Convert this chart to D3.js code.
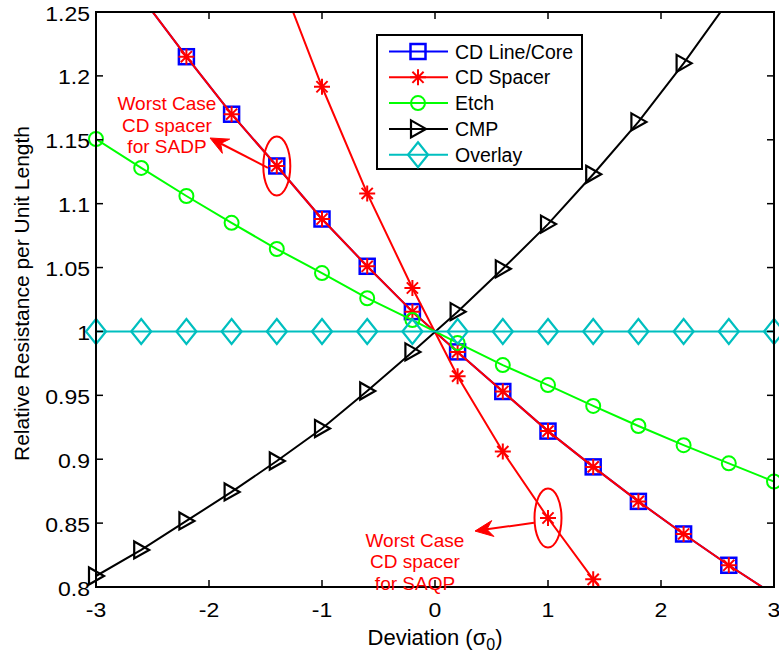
<!DOCTYPE html>
<html>
<head>
<meta charset="utf-8">
<script src="https://cdn.jsdelivr.net/npm/d3@7"></script>
<style>
  html, body { margin: 0; padding: 0; background: #fff; }
  svg { display: block; font-family: "Liberation Sans", Arial, Helvetica, sans-serif; }
</style>
</head>
<body>
<svg id="chart" width="779" height="656"></svg>
<script>
// Deviation in units of sigma_0
const deviation = [-3, -2.6, -2.2, -1.8, -1.4, -1.0, -0.6, -0.2, 0.2, 0.6, 1.0, 1.4, 1.8, 2.2, 2.6, 3.0];

// Relative resistance per unit length for each variation source
const cdLineCore    = [1.311, 1.262, 1.215, 1.170, 1.1295, 1.088, 1.051, 1.0155, 0.984, 0.953, 0.922, 0.894, 0.867, 0.8415, 0.817, 0.794];
const cdSpacerSADP  = [1.311, 1.262, 1.215, 1.170, 1.1295, 1.088, 1.051, 1.0155, 0.984, 0.953, 0.922, 0.894, 0.867, 0.8415, 0.817, 0.794];
const cdSpacerSAQP  = [1.74, 1.61, 1.49, 1.383, 1.283, 1.1915, 1.108, 1.034, 0.965, 0.906, 0.854, 0.806, 0.762, 0.722, 0.684, 0.648];
const etch          = [1.1506, 1.128, 1.106, 1.085, 1.0645, 1.0457, 1.026, 1.0089, 0.991, 0.9737, 0.958, 0.9417, 0.926, 0.911, 0.8968, 0.8825];
const cmp           = [0.8086, 0.829, 0.8517, 0.8744, 0.8986, 0.924, 0.9534, 0.984, 1.0155, 1.049, 1.084, 1.123, 1.164, 1.2098, 1.259, 1.31];
const overlay       = [1, 1, 1, 1, 1, 1, 1, 1, 1, 1, 1, 1, 1, 1, 1, 1];

const xTicks = [-3, -2, -1, 0, 1, 2, 3];
const yTicks = [0.8, 0.85, 0.9, 0.95, 1, 1.05, 1.1, 1.15, 1.2, 1.25];

const legendNames = ["CD Line/Core", "CD Spacer", "Etch", "CMP", "Overlay"];

(function () {
const series = [
  { name: "CD Line/Core", values: cdLineCore,   color: "#0000ff", marker: "square",   legend: 0 },
  { name: "CD Spacer",    values: cdSpacerSADP, color: "#ff0000", marker: "star",     legend: 1 },
  { name: "CD Spacer",    values: cdSpacerSAQP, color: "#ff0000", marker: "star",     legend: -1 },
  { name: "Etch",         values: etch,         color: "#00ff00", marker: "circle",   legend: 2 },
  { name: "CMP",          values: cmp,          color: "#000000", marker: "triangle", legend: 3 },
  { name: "Overlay",      values: overlay,      color: "#00bfbf", marker: "diamond",  legend: 4 }
];

const svg = d3.select("#chart");
const pl = 96, pr = 774, pt = 12, pb = 587;

const x = d3.scaleLinear().domain([-3, 3]).range([pl, pr]);
const y = d3.scaleLinear().domain([0.8, 1.25]).range([pb, pt]);

svg.append("defs").append("clipPath").attr("id", "plotClip")
  .append("rect").attr("x", pl).attr("y", pt)
  .attr("width", pr - pl).attr("height", pb - pt);

// marker shapes centred on (0,0)
function drawMarker(g, type, color) {
  if (type === "square") {
    g.append("rect").attr("x", -7.5).attr("y", -7.5).attr("width", 15).attr("height", 15)
      .attr("fill", "none").attr("stroke", color).attr("stroke-width", 2.5);
  } else if (type === "star") {
    const r = 8, d = 5.6;
    g.append("path")
      .attr("d", `M${-r},0L${r},0M0,${-r}L0,${r}M${-d},${-d}L${d},${d}M${-d},${d}L${d},${-d}`)
      .attr("stroke", color).attr("stroke-width", 2).attr("fill", "none");
  } else if (type === "circle") {
    g.append("circle").attr("r", 7).attr("fill", "none").attr("stroke", color).attr("stroke-width", 2);
  } else if (type === "triangle") {
    g.append("path").attr("d", "M-7,-8.5L8,0L-7,8.5Z")
      .attr("fill", "none").attr("stroke", color).attr("stroke-width", 2.2);
  } else if (type === "diamond") {
    g.append("path").attr("d", "M0,-12.5L10,0L0,12.5L-10,0Z")
      .attr("fill", "none").attr("stroke", color).attr("stroke-width", 2.2);
  }
}

// data lines and markers
const line = d3.line().x((d, i) => x(deviation[i])).y(d => y(d));
const plot = svg.append("g");
series.forEach(s => {
  plot.append("path").datum(s.values)
    .attr("d", line).attr("fill", "none")
    .attr("stroke", s.color).attr("stroke-width", 2)
    .attr("clip-path", "url(#plotClip)");
  s.values.forEach((v, i) => {
    if (v < 0.8 || v > 1.25) return;
    const g = plot.append("g").attr("transform", `translate(${x(deviation[i])},${y(v)})`);
    drawMarker(g, s.marker, s.color);
  });
});

// axes box and inward ticks on all four sides
const axisG = svg.append("g");
const tickLen = 7;
const tickFont = 19.5, stretch = 1.18;
xTicks.forEach(t => {
  axisG.append("line").attr("x1", x(t)).attr("x2", x(t)).attr("y1", pb).attr("y2", pb - tickLen)
    .attr("stroke", "#000").attr("stroke-width", 1.5);
  axisG.append("line").attr("x1", x(t)).attr("x2", x(t)).attr("y1", pt).attr("y2", pt + tickLen)
    .attr("stroke", "#000").attr("stroke-width", 1.5);
  axisG.append("text")
    .attr("transform", `translate(${x(t)},617) scale(${stretch},1)`)
    .attr("text-anchor", "middle").attr("font-size", tickFont).text(String(t));
});
yTicks.forEach(t => {
  axisG.append("line").attr("x1", pl).attr("x2", pl + tickLen).attr("y1", y(t)).attr("y2", y(t))
    .attr("stroke", "#000").attr("stroke-width", 1.5);
  axisG.append("line").attr("x1", pr).attr("x2", pr - tickLen).attr("y1", y(t)).attr("y2", y(t))
    .attr("stroke", "#000").attr("stroke-width", 1.5);
  axisG.append("text")
    .attr("transform", `translate(90,${y(t) + 8.5}) scale(${stretch},1)`)
    .attr("text-anchor", "end").attr("font-size", tickFont).text(String(+t.toFixed(2)));
});
axisG.append("rect").attr("x", pl).attr("y", pt).attr("width", pr - pl).attr("height", pb - pt)
  .attr("fill", "none").attr("stroke", "#000").attr("stroke-width", 2);

// axis titles
const xl = svg.append("text").attr("x", (pl + pr) / 2).attr("y", 645)
  .attr("text-anchor", "middle").attr("font-size", 22);
xl.append("tspan").text("Deviation (σ");
xl.append("tspan").attr("font-size", 16).attr("dy", 5).text("0");
xl.append("tspan").attr("dy", -5).text(")");

svg.append("text").attr("transform", `translate(29,${(pt + pb) / 2 - 6}) rotate(-90)`)
  .attr("text-anchor", "middle").attr("font-size", 21).text("Relative Resistance per Unit Length");

// legend
const lg = svg.append("g");
lg.append("rect").attr("x", 377).attr("y", 35).attr("width", 205).attr("height", 134)
  .attr("fill", "#fff").attr("stroke", "#000").attr("stroke-width", 2);
legendNames.forEach((name, k) => {
  const s = series.find(d => d.legend === k);
  const ry = 51.5 + k * 25.8;
  lg.append("line").attr("x1", 389).attr("x2", 448).attr("y1", ry).attr("y2", ry)
    .attr("stroke", s.color).attr("stroke-width", 2);
  drawMarker(lg.append("g").attr("transform", `translate(418,${ry})`), s.marker, s.color);
  lg.append("text").attr("x", 455).attr("y", ry + 7).attr("font-size", 19.5).text(name);
});

// callouts for the worst-case spacer CD
const callouts = [
  { lines: ["Worst Case", "CD spacer", "for SADP"], tx: -2.372, ty: 1.1733,
    ex: -1.4, ey: 1.1295, from: [-1.478, 1.128], to: [-1.991, 1.1514] },
  { lines: ["Worst Case", "CD spacer", "for SAQP"], tx: -0.177, ty: 0.8315,
    ex: 1.0, ey: 0.854, from: [0.876, 0.8503], to: [0.354, 0.8438] }
];
const red = "#ff0000";
callouts.forEach(c => {
  const g = svg.append("g");
  c.lines.forEach((t, i) => {
    g.append("text").attr("x", x(c.tx)).attr("y", y(c.ty) + i * 21.7)
      .attr("text-anchor", "middle").attr("font-size", 19).attr("fill", red).text(t);
  });
  g.append("ellipse").attr("cx", x(c.ex)).attr("cy", y(c.ey)).attr("rx", 13.5).attr("ry", 29.5)
    .attr("fill", "none").attr("stroke", red).attr("stroke-width", 2);
  const x0 = x(c.from[0]), y0 = y(c.from[1]), x1 = x(c.to[0]), y1 = y(c.to[1]);
  const ang = Math.atan2(y1 - y0, x1 - x0);
  const L = 18, W = 8, notch = 12;
  const ux = Math.cos(ang), uy = Math.sin(ang), px = -uy, py = ux;
  const bx = x1 - ux * L, by = y1 - uy * L;
  const nx = x1 - ux * notch, ny = y1 - uy * notch;
  g.append("line").attr("x1", x0).attr("y1", y0).attr("x2", nx).attr("y2", ny)
    .attr("stroke", red).attr("stroke-width", 2);
  g.append("path")
    .attr("d", `M${x1},${y1}L${bx + px * W},${by + py * W}L${nx},${ny}L${bx - px * W},${by - py * W}Z`)
    .attr("fill", red).attr("stroke", red).attr("stroke-width", 1);
});
})();
</script>
</body>
</html>
